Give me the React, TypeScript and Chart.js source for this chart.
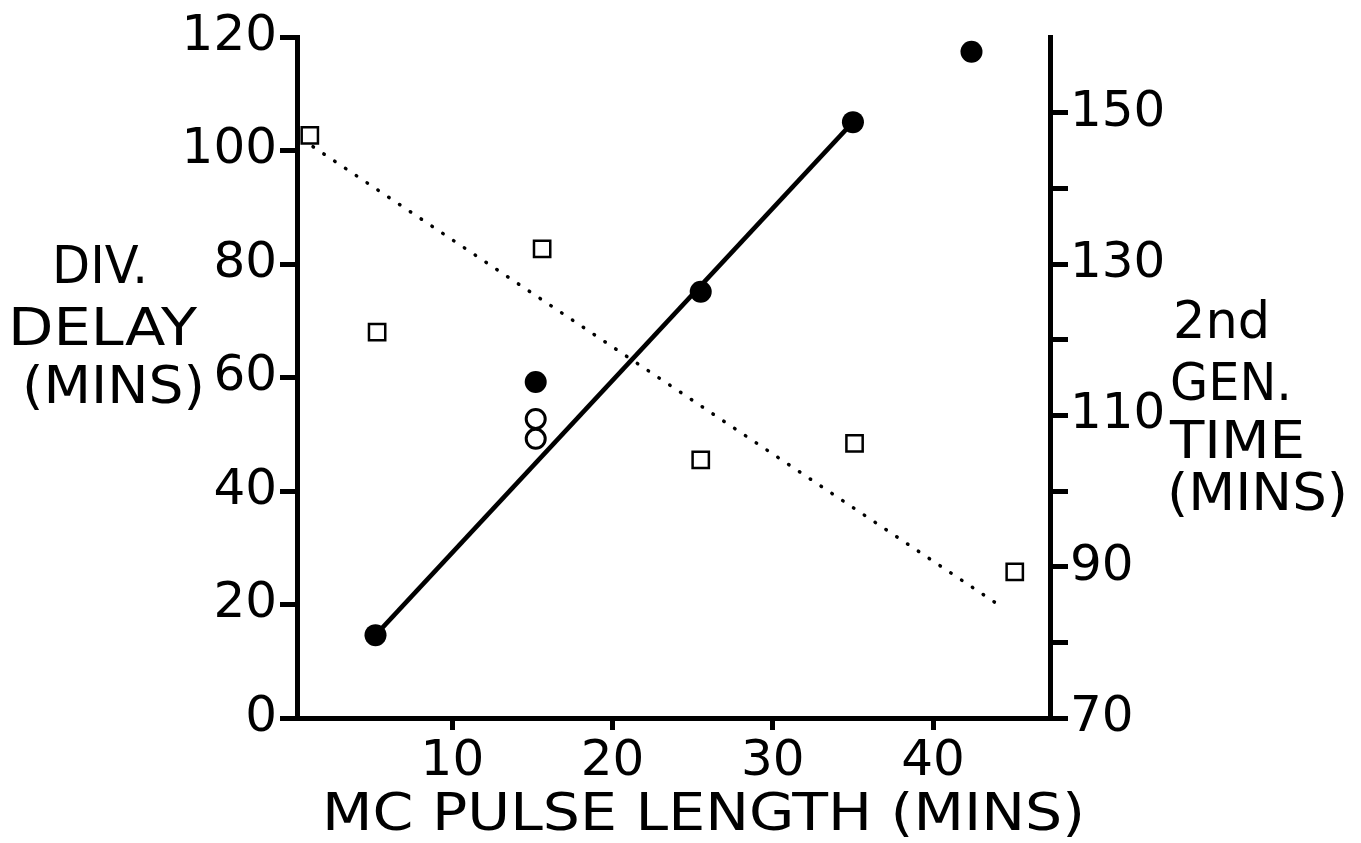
import React, { useEffect, useRef } from 'react';
import { Chart, registerables } from 'chart.js';

Chart.register(...registerables);

// ---- data ----
const pulseFilled = [5.2, 15.2, 25.5, 35.0, 42.4];
const delayFilled = [14.6, 59.2, 75.1, 105.0, 117.4];

const pulseOpen = [15.2, 15.2];
const delayOpen = [52.7, 49.2];

const pulseSquares = [1.1, 5.3, 15.6, 25.5, 35.1, 45.1];
const genTimeSquares = [147.0, 121.0, 132.0, 104.1, 106.3, 89.3];

const fitPulse = [5.2, 35.0];
const fitDelay = [14.6, 105.0];

const trendPulse = [1.3, 44.2];
const trendGen = [145.5, 84.8];

const xTicks = [10, 20, 30, 40];
const leftTicks = [0, 20, 40, 60, 80, 100, 120];
const rightTicks = [70, 80, 90, 100, 110, 120, 130, 140, 150];
const rightLabelled = [70, 90, 110, 130, 150];

const leftTitle = ['DIV.', 'DELAY', '(MINS)'];
const rightTitle = ['2nd', 'GEN.', 'TIME', '(MINS)'];
const xTitle = 'MC PULSE LENGTH (MINS)';

const FONT = '"DejaVu Sans", sans-serif';

const toPoints = (xs: number[], ys: number[]) => xs.map((x, i) => ({ x, y: ys[i] }));

const titlePlugin = {
  id: 'freeTitles',
  afterDraw(chart: any) {
    const ctx = chart.ctx as CanvasRenderingContext2D;
    ctx.save();
    ctx.fillStyle = '#000';
    ctx.textAlign = 'left';
    ctx.textBaseline = 'alphabetic';
    ctx.font = `52px ${FONT}`;
    const draw = (t: string, x: number, y: number, w: number) => {
      const m = ctx.measureText(t).width;
      ctx.save();
      ctx.translate(x, y);
      ctx.scale(w / m, 1);
      ctx.fillText(t, 0, 0);
      ctx.restore();
    };
    // left block
    draw(leftTitle[0], 52, 283, 96);
    draw(leftTitle[1], 8, 345, 189);
    draw(leftTitle[2], 22, 403, 183);
    // right block
    draw(rightTitle[0], 1173, 338, 97);
    draw(rightTitle[1], 1170, 400, 122);
    draw(rightTitle[2], 1170, 458, 135);
    draw(rightTitle[3], 1167, 510, 181);
    // bottom
    draw(xTitle, 322, 830, 763);
    ctx.restore();
  },
};

export default function App() {
  const ref = useRef<HTMLCanvasElement>(null);

  useEffect(() => {
    document.body.style.margin = '0';
    const tickFont = { family: FONT, size: 50 };
    const gridBase = {
      display: true,
      drawOnChartArea: false,
      drawTicks: true,
      color: '#000',
      lineWidth: 5,
      tickWidth: 5,
      tickColor: '#000',
    };
    const chart = new Chart(ref.current as HTMLCanvasElement, {
      type: 'scatter',
      data: {
        datasets: [
          {
            label: 'div delay',
            data: toPoints(pulseFilled, delayFilled),
            yAxisID: 'y',
            pointRadius: 11,
            pointBackgroundColor: '#000',
            pointBorderWidth: 0,
            showLine: false,
          },
          {
            label: 'div delay (open)',
            data: toPoints(pulseOpen, delayOpen),
            yAxisID: 'y',
            pointRadius: 9.5,
            pointBackgroundColor: '#fff',
            pointBorderColor: '#000',
            pointBorderWidth: 3,
            showLine: false,
          },
          {
            label: '2nd gen time',
            data: toPoints(pulseSquares, genTimeSquares),
            yAxisID: 'y2',
            pointStyle: 'rect',
            pointRadius: 11.5,
            pointBackgroundColor: '#fff',
            pointBorderColor: '#000',
            pointBorderWidth: 2.5,
            showLine: false,
          },
          {
            label: 'fit',
            data: toPoints(fitPulse, fitDelay),
            yAxisID: 'y',
            showLine: true,
            borderColor: '#000',
            borderWidth: 4.5,
            pointRadius: 0,
          },
          {
            label: 'trend',
            data: toPoints(trendPulse, trendGen),
            yAxisID: 'y2',
            showLine: true,
            borderColor: '#000',
            borderWidth: 3.5,
            borderDash: [0.5, 12.5],
            borderCapStyle: 'round',
            pointRadius: 0,
          },
        ],
      } as any,
      options: {
        responsive: false,
        animation: false,
        devicePixelRatio: 1,
        layout: { padding: { top: 37, left: 0, right: 0, bottom: 0 } },
        plugins: { legend: { display: false }, tooltip: { enabled: false }, title: { display: false } },
        elements: { line: { tension: 0 } },
        scales: {
          x: {
            type: 'linear',
            position: 'bottom',
            min: 0.3,
            max: 47.3,
            afterBuildTicks: (s: any) => {
              s.ticks = xTicks.map((v) => ({ value: v }));
            },
            afterFit: (s: any) => {
              s.height = 125;
            },
            border: { display: true, color: '#000', width: 5 },
            grid: { ...gridBase, tickLength: 12 },
            ticks: { font: tickFont, color: '#000', padding: 2, maxRotation: 0, autoSkip: false },
          },
          y: {
            type: 'linear',
            position: 'left',
            min: 0,
            max: 120,
            afterBuildTicks: (s: any) => {
              s.ticks = leftTicks.map((v) => ({ value: v }));
            },
            afterFit: (s: any) => {
              s.width = 297;
            },
            border: { display: true, color: '#000', width: 5 },
            grid: { ...gridBase, tickLength: 17 },
            ticks: { font: tickFont, color: '#000', padding: 3, autoSkip: false },
          },
          y2: {
            type: 'linear',
            position: 'right',
            min: 70,
            max: 160,
            afterBuildTicks: (s: any) => {
              s.ticks = rightTicks.map((v) => ({ value: v }));
            },
            afterFit: (s: any) => {
              s.width = 311;
            },
            border: { display: true, color: '#000', width: 5 },
            grid: { ...gridBase, tickLength: 18 },
            ticks: {
              font: tickFont,
              color: '#000',
              padding: 2,
              autoSkip: false,
              callback: (v: any) => (rightLabelled.includes(Number(v)) ? String(v) : ''),
            },
          },
        },
      } as any,
      plugins: [titlePlugin],
    });
    return () => chart.destroy();
  }, []);

  return (
    <div style={{ position: 'fixed', left: 0, top: 0, width: 1361, height: 843, background: '#fff' }}>
      <canvas ref={ref} width={1361} height={843} style={{ display: 'block', width: 1361, height: 843 }} />
    </div>
  );
}
